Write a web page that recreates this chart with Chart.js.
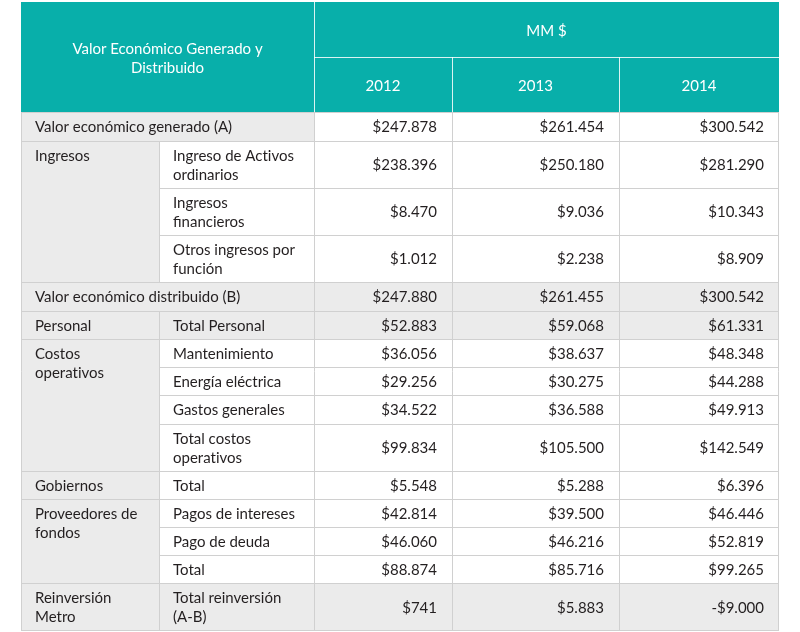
<!DOCTYPE html>
<html>
<head>
<meta charset="utf-8">
<script src="https://cdn.jsdelivr.net/npm/chart.js@4/dist/chart.umd.min.js"></script>
<style>
  html, body { margin: 0; padding: 0; background: #fff; }
  #wrap { width: 800px; height: 632px; position: relative; }
</style>
</head>
<body>
<div id="wrap"><canvas id="tabla"></canvas></div>
<script>
// datos de la tabla
const years = ["2012", "2013", "2014"]
const conceptos = [
  "Valor económico generado (A)",
  "Ingreso de Activos\nordinarios",
  "Ingresos\nfinancieros",
  "Otros ingresos por\nfunción",
  "Valor económico distribuido (B)",
  "Total Personal",
  "Mantenimiento",
  "Energía eléctrica",
  "Gastos generales",
  "Total costos\noperativos",
  "Total",
  "Pagos de intereses",
  "Pago de deuda",
  "Total",
  "Total reinversión\n(A-B)"
]
const grupos = ["Ingresos", "Personal", "Costos\noperativos", "Gobiernos", "Proveedores de\nfondos", "Reinversión\nMetro"]
const grupoDesde = [1, 5, 6, 10, 11, 14]
const grupoHasta = [3, 5, 9, 10, 13, 14]
const valores2012 = [247878, 238396, 8470, 1012, 247880, 52883, 36056, 29256, 34522, 99834, 5548, 42814, 46060, 88874, 741]
const valores2013 = [261454, 250180, 9036, 2238, 261455, 59068, 38637, 30275, 36588, 105500, 5288, 39500, 46216, 85716, 5883]
const valores2014 = [300542, 281290, 10343, 8909, 300542, 61331, 48348, 44288, 49913, 142549, 6396, 46446, 52819, 99265, -9000]
const titulo = "Valor Económico Generado y\nDistribuido"
const unidad = "MM $"

// filas que ocupan las dos primeras columnas / filas grises completas
const filasTotales = [0, 4]
const filasGrises = [4, 5, 14]

// layout (en unidades de las escalas)
const colEdges = [0, 138, 293, 431, 598, 758]
const rowHeights = [29, 47, 47, 47, 29, 28, 28, 28, 29, 47, 28, 28, 28, 28, 48]
const headerH = 110
const headerSplit = 55
const rowTops = []
rowHeights.reduce((acc, h) => { rowTops.push(acc); return acc + h }, headerH)

const TEAL = "#08afaa"
const GRIS = "#ebebeb"
const LINEA = "#d0d0d0"
const TEXTO = "#231f20"
const FONT = "15px Lato"
const LINE_GAP = 19
const DY = 1

const fmt = n => (n < 0 ? "-" : "") + "$" + String(Math.abs(n)).replace(/\B(?=(\d{3})+(?!\d))/g, ".")

const series = [valores2012, valores2013, valores2014]
const datasets = series.map((vals, k) => ({
  label: years[k],
  data: vals.map((v, i) => ({ x: colEdges[k + 3], y: rowTops[i] + rowHeights[i] / 2, v })),
  pointRadius: 0,
  showLine: false
}))

function drawLines(ctx, text, x, y, align, color) {
  const lines = text.split("\n")
  ctx.fillStyle = color
  ctx.textAlign = align
  ctx.textBaseline = "middle"
  const start = y + DY - (lines.length - 1) * LINE_GAP / 2
  // ZWNJ entre "t" e "i" para evitar la ligadura de Lato
  lines.forEach((l, i) => ctx.fillText(l.replace(/t(?=i)/g, "t\u200C"), x, start + i * LINE_GAP))
}

const tablePlugin = {
  id: "tabla",
  afterDatasetsDraw(chart) {
    const { ctx, scales: { x, y } } = chart
    const X = v => x.getPixelForValue(v)
    const Y = v => y.getPixelForValue(v)
    const lx = v => Math.round(X(v)) + 0.5
    const ly = v => Math.round(Y(v)) + 0.5
    const bodyBottom = rowTops[rowTops.length - 1] + rowHeights[rowHeights.length - 1]
    ctx.save()
    ctx.font = FONT

    // cabecera
    ctx.fillStyle = TEAL
    ctx.fillRect(X(0), Y(0), X(colEdges[5]) - X(0), Y(headerH) - Y(0))
    ctx.strokeStyle = "rgba(255,255,255,0.85)"
    ctx.lineWidth = 1
    ctx.beginPath()
    ctx.moveTo(lx(colEdges[2]), Y(0)); ctx.lineTo(lx(colEdges[2]), Y(headerH))
    ctx.moveTo(X(colEdges[2]), ly(headerSplit)); ctx.lineTo(X(colEdges[5]), ly(headerSplit))
    ctx.moveTo(lx(colEdges[3]), Y(headerSplit)); ctx.lineTo(lx(colEdges[3]), Y(headerH))
    ctx.moveTo(lx(colEdges[4]), Y(headerSplit)); ctx.lineTo(lx(colEdges[4]), Y(headerH))
    ctx.stroke()
    drawLines(ctx, titulo, (X(colEdges[0]) + X(colEdges[2])) / 2, Y(headerH / 2) + 1, "center", "#fff")
    drawLines(ctx, unidad, (X(colEdges[2]) + X(colEdges[5])) / 2, Y(headerSplit / 2) + 1, "center", "#fff")
    years.forEach((yr, k) => {
      drawLines(ctx, yr, (X(colEdges[k + 2]) + X(colEdges[k + 3])) / 2, Y((headerSplit + headerH) / 2) + 1, "center", "#fff")
    })

    // fondos
    rowHeights.forEach((h, i) => {
      const top = Y(rowTops[i]), hh = Y(rowTops[i] + h) - top
      ctx.fillStyle = "#fff"
      ctx.fillRect(X(0), top, X(colEdges[5]) - X(0), hh)
      ctx.fillStyle = GRIS
      const gEnd = filasTotales.includes(i) ? colEdges[2] : colEdges[1]
      const fEnd = filasGrises.includes(i) ? colEdges[5] : gEnd
      ctx.fillRect(X(0), top, X(fEnd) - X(0), hh)
    })

    // lineas
    ctx.strokeStyle = LINEA
    ctx.lineWidth = 1
    ctx.beginPath()
    rowHeights.forEach((h, i) => {
      const inGroup = grupoDesde.some((d, g) => i > d && i <= grupoHasta[g])
      const x0 = inGroup ? colEdges[1] : colEdges[0]
      ctx.moveTo(X(x0), ly(rowTops[i])); ctx.lineTo(X(colEdges[5]), ly(rowTops[i]))
      if (!filasTotales.includes(i)) {
        ctx.moveTo(lx(colEdges[1]), Y(rowTops[i])); ctx.lineTo(lx(colEdges[1]), Y(rowTops[i] + h))
      }
    })
    ctx.moveTo(X(0), ly(bodyBottom) - 1); ctx.lineTo(X(colEdges[5]), ly(bodyBottom) - 1)
    ;[0, 2, 3, 4].forEach(c => {
      ctx.moveTo(lx(colEdges[c]), Y(headerH)); ctx.lineTo(lx(colEdges[c]), Y(bodyBottom))
    })
    ctx.moveTo(lx(colEdges[5]) - 1, Y(headerH)); ctx.lineTo(lx(colEdges[5]) - 1, Y(bodyBottom))
    ctx.stroke()

    // textos de filas
    conceptos.forEach((c, i) => {
      const cx = filasTotales.includes(i) ? X(colEdges[0]) + 14 : X(colEdges[1]) + 14
      drawLines(ctx, c, cx, Y(rowTops[i] + rowHeights[i] / 2), "left", TEXTO)
    })
    grupos.forEach((g, k) => {
      const i = grupoDesde[k]
      const lines = g.split("\n").length
      let cy
      if (grupoDesde[k] === grupoHasta[k]) cy = Y(rowTops[i] + rowHeights[i] / 2)
      else cy = Y(rowTops[i]) + 14 + (lines - 1) * LINE_GAP / 2
      drawLines(ctx, g, X(colEdges[0]) + 14, cy, "left", TEXTO)
    })

    // valores
    chart.data.datasets.forEach((ds, k) => {
      chart.getDatasetMeta(k).data.forEach((pt, i) => {
        drawLines(ctx, fmt(ds.data[i].v), pt.x - 15, pt.y, "right", TEXTO)
      })
    })
    ctx.restore()
  }
}

new Chart(document.getElementById("tabla"), {
  type: "scatter",
  data: { datasets },
  options: {
    responsive: true,
    maintainAspectRatio: false,
    animation: false,
    events: [],
    layout: { padding: { left: 21, right: 21, top: 2, bottom: 1 } },
    plugins: { legend: { display: false }, tooltip: { enabled: false } },
    scales: {
      x: { type: "linear", min: 0, max: colEdges[5], display: false },
      y: { type: "linear", min: 0, max: headerH + rowHeights.reduce((a, b) => a + b, 0), reverse: true, display: false }
    }
  },
  plugins: [tablePlugin]
})
</script>
</body>
</html>
